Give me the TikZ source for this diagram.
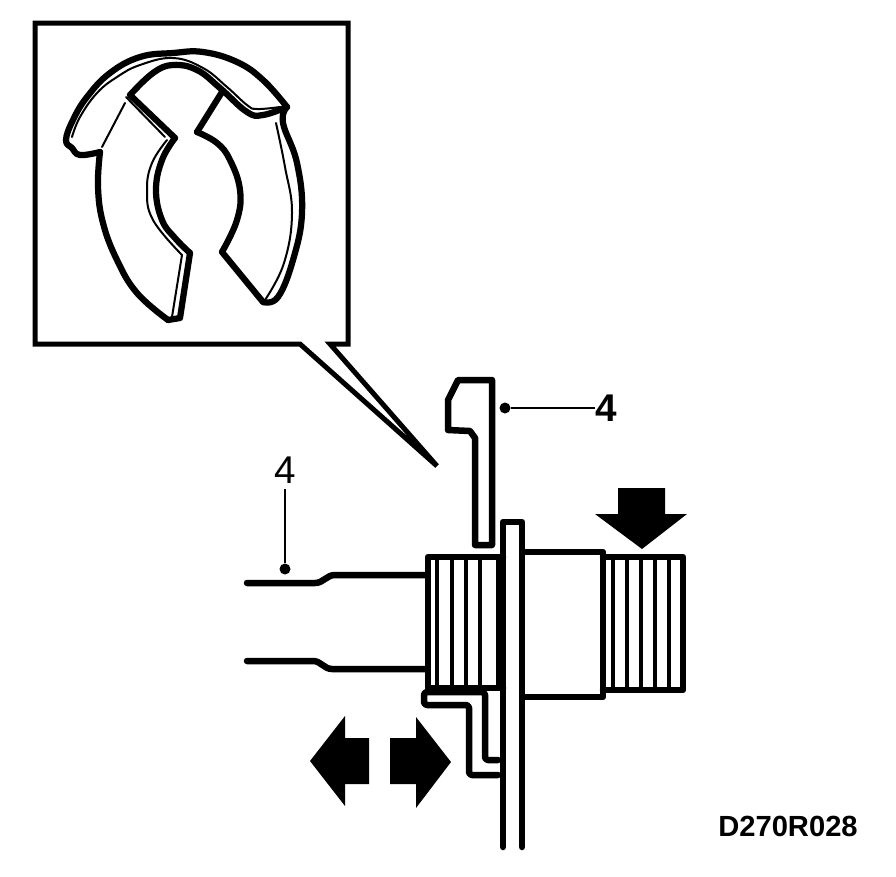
\documentclass[tikz,border=0pt]{standalone}
\usepackage{fontspec}
\setmainfont{Liberation Sans}
\tikzset{
 heavy/.style={line width=.125cm,line join=round,line cap=round},
 wall/.style={line width=.13cm,line join=round,line cap=round},
 thin line/.style={line width=.04cm,line cap=round},
 rib/.style={line width=.07cm},
 leader/.style={line width=.05cm},
 dot/.style={circle,fill=black,inner sep=0pt,minimum size=.22cm},
 lbl/.style={font=\fontsize{22}{24}\selectfont,inner sep=0pt}
}
\begin{document}
\begin{tikzpicture}[x=.02cm,y=-.02cm]
\useasboundingbox(0,0)rectangle(896,876);
% inset with pointer
\draw[line width=.1cm,line join=miter](300,344)--(35,344)--(35,23)--(348,23)--(348,344)--(330,344)--(437,466)--cycle;
% clip, outer edge
\begin{scope}
\draw[heavy]plot[smooth,tension=.7]coordinates{(287,107)(263,80)(237,62)(203,52)(173,53)(140,57)(110,73)(87,97)(73,120)(66,140)(72,148)(80,155)(100,152)};
\draw[heavy]plot[smooth,tension=.7]coordinates{(100,152)(98,187)(103,223)(117,260)(137,293)(168,320)};
\draw[heavy](168,320)--(180,318)--(190,253);
\draw[heavy]plot[smooth,tension=.7]coordinates{(175,138)(162,160)(156,190)(162,220)(175,238)(190,253)};
\draw[heavy](175,138)--(130,95);
\draw[heavy]plot[smooth,tension=.7]coordinates{(130,95)(153,73)(173,65)(197,70)(220,88)(247,112)(263,115)(287,107)};
\draw[heavy]plot[smooth,tension=.7]coordinates{(287,107)(283,123)(297,163)(302,213)(293,260)(278,297)(263,302)};
\draw[heavy](263,302)--(222,252);
\draw[heavy]plot[smooth,tension=.7]coordinates{(222,252)(237,220)(240,190)(230,160)(217,143)(197,132)};
\draw[heavy](197,132)--(222,92);
% clip, thin inner edge
\draw[thin line]plot[smooth,tension=.7]coordinates{(72,137)(80,117)(97,93)(117,77)(140,65)(173,58)(203,68)(227,87)(247,105)(257,109)(280,107)};
\draw[thin line]plot[smooth,tension=.7]coordinates{(276,123)(285,167)(292,213)(284,263)(265,300)};
\draw[thin line]plot[smooth,tension=.7]coordinates{(167,140)(152,163)(147,190)(153,220)(182,255)};
\draw[thin line](182,255)--(172,317);
\draw[thin line](165,137)--(126,97);
\draw[thin line](125,103)--(102,147);
\end{scope}
% clip, side view
\draw[wall](458,380)--(492,380)--(492,545)--(475,545)--(475,438)--(470,431)--(448,430)--(448,400)--cycle;
% threaded sleeve
\begin{scope}
\draw[wall](503,557)--(428,557)--(428,688)--(503,688);
\draw[wall](603,557)--(683,557)--(683,690)--(603,690);
\foreach\x in{437,452,466,480,498,613,627,641,655,669}\draw[rib](\x,557)--(\x,688);
\draw[wall](523,552)--(603,552)--(603,697)--(523,697);
\end{scope}
% plate
\draw[wall](503,847)--(503,522)--(522,522)--(522,847);
% shaft
\draw[wall](247,583)--(315,583)to[out=0,in=180](335,575)--(425,575);
\draw[wall](247,661)--(313,661)to[out=0,in=180](332,669)--(425,669);
% bracket
\draw[wall,rounded corners=.06cm](498,775)--(469,775)--(469,705)--(424,705)--(424,692)--(485,692)--(485,760)--(498,760);
% arrows
\fill(618,488)--(665,488)--(665,514)--(687,514)--(642,549)--(595,514)--(618,514)--cycle;
\fill(369,738)--(345,738)--(345,716)--(310,761)--(345,806)--(345,784)--(369,784)--cycle;
\fill(390,738)--(416,738)--(416,717)--(451,762)--(416,808)--(416,784)--(390,784)--cycle;
% labels
\node[dot](dotClip)at(505,408){};
\node[lbl,font=\fontsize{22}{24}\selectfont\bfseries](lblClip)at(606,408){4};
\draw[leader](dotClip)--(lblClip);
\node[dot](dotShaft)at(285,569){};
\node[lbl](lblShaft)at(285,470){4};
\draw[leader,line width=.04cm,shorten >=.1cm](dotShaft)--(lblShaft);
\node[inner sep=0pt,font=\fontsize{16.6}{18}\selectfont\bfseries](lblCode)at(788,826){D270R028};
\end{tikzpicture}
\end{document}
